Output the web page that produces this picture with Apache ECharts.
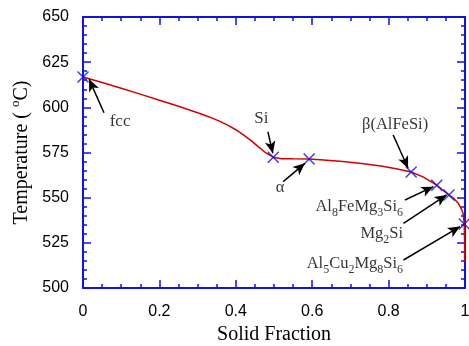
<!DOCTYPE html>
<html>
<head>
<meta charset="utf-8">
<script src="https://cdn.jsdelivr.net/npm/echarts@6/dist/echarts.min.js"></script>
<style>
html,body{margin:0;padding:0;background:#fff;}
#main{width:469px;height:346px;}
</style>
</head>
<body>
<div id="main"></div>
<script>
// solidification curve (Scheil)
var fraction=[0,0.05,0.1,0.15,0.2,0.25,0.3,0.32,0.34,0.36,0.38,0.4,0.42,0.44,0.46,0.48,0.498,0.52,0.55,0.592,0.63,0.68,0.73,0.78,0.82,0.859,0.89,0.91,0.926,0.94,0.958,0.97,0.982,0.99,0.995,0.998,0.999,0.999];
var temperature=[616.8,613.7,610.6,607.3,603.9,600.6,597,595.5,593.9,592.1,590,587.6,584.8,581.6,578,574.6,572.4,571.6,571.5,571.4,570.9,570,568.9,567.5,566,564.2,561.5,559,556.9,554.5,551.5,549.6,547,544,541.4,535.4,525,514.6];

// phase formation points
var phaseFraction=[0,0.498,0.592,0.859,0.926,0.958,0.998];
var phaseTemp=[616.8,572.4,571.4,564.2,556.9,551.5,535.4];

// annotation texts, where they sit, arrow tail -> head
var labelText=['fcc','Si','{n|α}','{n|β(AlFeSi)}','{n|Al}{s|8}{n|FeMg}{s|3}{n|Si}{s|6}','{n|Mg}{s|2}{n|Si}','{n|Al}{s|5}{n|Cu}{s|2}{n|Mg}{s|8}{n|Si}{s|6}'];
var labelX=[0.097,0.467,0.516,0.817,0.838,0.838,0.838];
var labelY=[591.9,593.6,555.6,590.5,545,530,513.5];
var tailX=[0.055,0.484,0.524,0.812,0.843,0.839,0.839];
var tailY=[597,586.5,558.9,584.7,548.7,535.8,515.5];
var headX=[0.016,0.497,0.581,0.851,0.917,0.952,0.987];
var headY=[615.5,574.6,569,566.3,556.1,551.5,534];

var xTicks=[0,0.2,0.4,0.6,0.8,1];

var blue='#1010e8';
var serif='"Liberation Serif","DejaVu Serif",serif';
var sans='"Liberation Sans",Arial,sans-serif';

var myChart=echarts.init(document.getElementById('main'));

function axisStyle(show){
    return {
        axisLine:{show:true,onZero:false,lineStyle:{color:blue,width:2}},
        axisTick:{show:true,inside:true,length:8,lineStyle:{color:blue,width:1.5}},
        minorTick:{show:true,length:4,lineStyle:{color:blue,width:1.5}},
        splitLine:{show:false},
        axisLabel:{show:show,color:'#000',fontFamily:sans,fontSize:16}
    };
}

var xMain=Object.assign({
    type:'value',min:0,max:1,interval:0.2,splitNumber:5,
    name:'Solid Fraction',nameLocation:'middle',nameGap:33,
    nameTextStyle:{fontFamily:serif,fontSize:20,color:'#000'}
},axisStyle(true));
xMain.minorTick.splitNumber=4;
xMain.axisLabel.margin=16;
xMain.axisLabel.formatter=function(v){return xTicks.indexOf(Math.round(v*10)/10)>=0?String(Math.round(v*10)/10):'';};

var xTop=Object.assign({type:'value',position:'top',min:0,max:1,interval:0.2},axisStyle(false));
xTop.minorTick.splitNumber=4;

var yMain=Object.assign({
    type:'value',min:500,max:650,interval:25,
    name:'Temperature ( {sup|o}C)',nameLocation:'middle',nameGap:48,
    nameTextStyle:{fontFamily:serif,fontSize:20,color:'#000',
        rich:{sup:{fontFamily:serif,fontSize:13,padding:[0,0,12,0]}}}
},axisStyle(true));
yMain.minorTick.splitNumber=5;
yMain.axisLabel.margin=14;

var yRight=Object.assign({type:'value',position:'right',min:500,max:650,interval:25},axisStyle(false));
yRight.minorTick.splitNumber=5;

var labelData=[],arrowData=[],markerData=[];
for(var i=0;i<labelText.length;i++){
    var right=i>=4;
    labelData.push({
        value:[labelX[i],labelY[i]],
        label:{show:true,formatter:labelText[i],position:right?'left':'inside',distance:0,
            color:'#000',fontFamily:serif,fontSize:17,
            rich:{
                n:{fontFamily:serif,fontSize:16.5,color:'#000'},
                s:{fontFamily:serif,fontSize:12,color:'#000',padding:[13,0,0,0]}
            }}
    });
    arrowData.push([{coord:[tailX[i],tailY[i]]},{coord:[headX[i],headY[i]]}]);
}
for(var j=0;j<phaseFraction.length;j++){
    markerData.push([phaseFraction[j],phaseTemp[j]]);
}

var option={
    animation:false,
    grid:{left:83,right:4,top:17,bottom:58,outerBoundsMode:'none',containLabel:false},
    xAxis:[xMain,xTop],
    yAxis:[yMain,yRight],
    series:[
        {
            type:'line',
            data:fraction.map(function(f,k){return [f,temperature[k]];}),
            showSymbol:false,
            lineStyle:{color:'#d40000',width:1.5},
            z:2
        },
        {
            type:'scatter',
            data:markerData,
            symbol:'path://M0,0L10,10M10,0L0,10',
            symbolSize:11,
            itemStyle:{color:'none',borderColor:blue,borderWidth:1.5},
            clip:false,
            z:3
        },
        {
            type:'scatter',
            data:labelData,
            symbolSize:0,
            silent:true,
            z:4,
            markLine:{
                silent:true,
                symbol:['none','arrow'],
                symbolSize:[8,12],
                label:{show:false},
                lineStyle:{color:'#000',width:1.5,type:'solid'},
                data:arrowData
            }
        }
    ]
};

myChart.setOption(option);
</script>
</body>
</html>
